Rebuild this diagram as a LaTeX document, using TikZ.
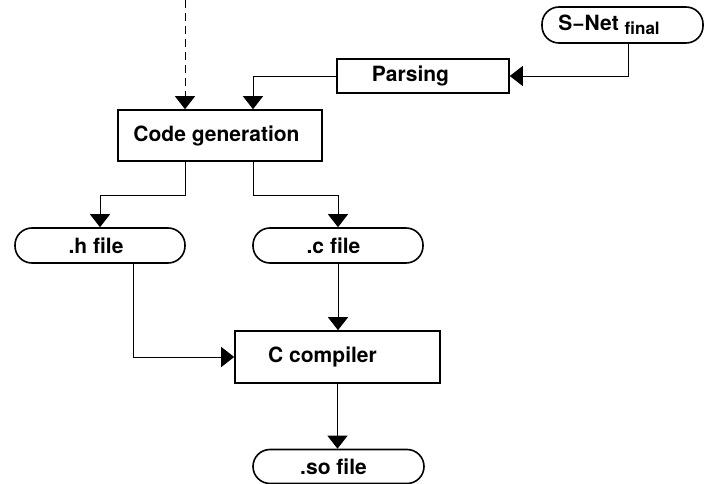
\documentclass[tikz,border=0pt]{standalone}
\usepackage{fontspec}
\setmainfont{TeX Gyre Heros}
\usetikzlibrary{arrows.meta}
\begin{document}
\begin{tikzpicture}[x=1pt,y=-1pt,
  every node/.style={font=\fontsize{21}{23}\selectfont\bfseries, inner sep=0pt},
  stepbox/.style={draw, line width=1.6pt, rectangle},
  filebox/.style={draw, line width=1.6pt, rectangle, rounded corners=17pt},
  flow/.style={line width=0.9pt, -{Triangle[width=20pt,length=13pt]}},
]
\useasboundingbox (0,0) rectangle (705,484);

% process steps (labels sit a little left of centre)
\node[stepbox, minimum width=204pt, minimum height=51pt] (cg) at (220,135.5) {Code generation\kern7pt};
\node[stepbox, minimum width=172pt, minimum height=34pt] (ps) at (423,76) {Parsing\kern25pt};
\node[stepbox, minimum width=205pt, minimum height=52pt] (cc) at (337.5,357) {C compiler\kern30pt};

% files
\node[filebox, minimum width=161pt, minimum height=36pt] (sn) at (622.5,25) {S\char"2212 Net\kern6pt\raisebox{-4pt}{\fontsize{17}{17}\selectfont final}\kern27pt};
\node[filebox, minimum width=170pt, minimum height=35pt] (hf) at (100,245.5) {.h file\kern8pt};
\node[filebox, minimum width=170pt, minimum height=35pt] (cf) at (338,245.5) {.c file\kern9pt};
\node[filebox, minimum width=171pt, minimum height=34pt] (so) at (338.5,466.5) {.so file\kern10pt};

% incoming input from above
\coordinate (in) at (185,0);
\draw[flow, dash pattern=on 8pt off 5pt] (in) -- (in |- cg.north);

% connectors
\draw[flow] ([xshift=5.5pt]sn.south) |- (ps.east);
\draw[flow] (ps.west) -| ([xshift=33pt]cg.north);
\draw[flow] ([xshift=-35pt]cg.south) -- ++(0,34) -| (hf.north);
\draw[flow] ([xshift=33pt]cg.south) -- ++(0,34) -| (cf.north);
\draw[flow] ([xshift=33pt]hf.south) |- (cc.west);
\draw[flow] (cf.south) -- (cf.south |- cc.north);
\draw[flow] (cc.south) -- (cc.south |- so.north);
\end{tikzpicture}
\end{document}
